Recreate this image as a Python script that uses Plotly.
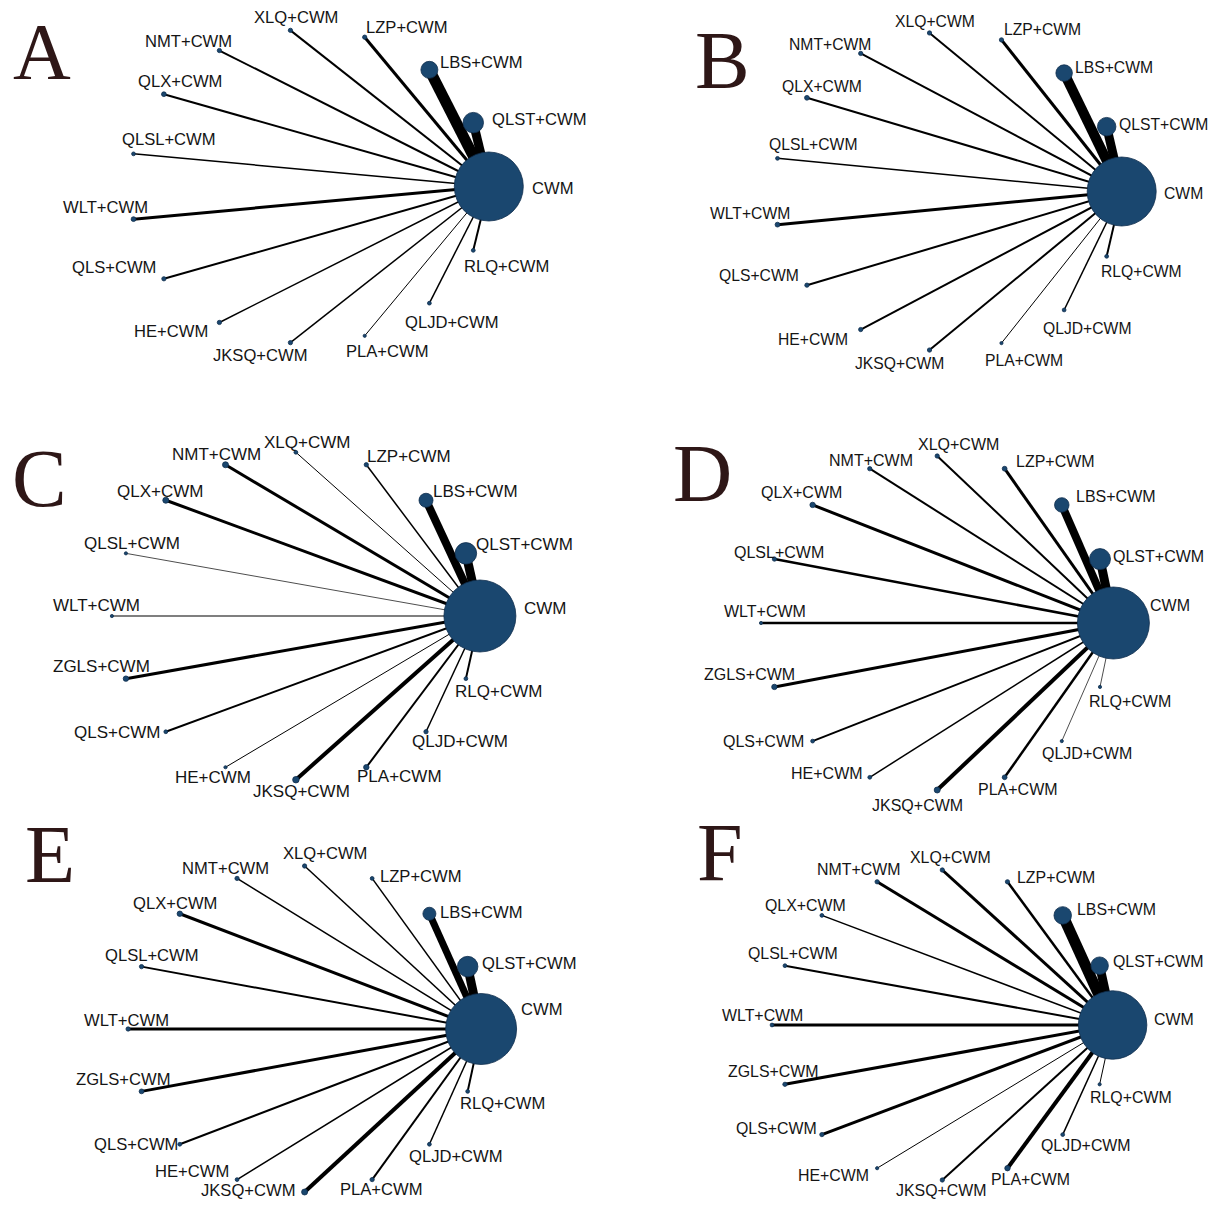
import numpy as np
import plotly.graph_objects as go

# page body has an 8px margin: the figure starts 8px in from the window corner
OFF = 8
W, H = 1217 - 2 * OFF, 1209 - 2 * OFF

# ---------------- data ----------------
panel_letters = ["A", "B", "C", "D", "E", "F"]

nodes_ab = ["CWM", "QLST", "LBS", "LZP", "XLQ", "NMT", "QLX", "QLSL", "WLT",
            "QLS", "HE", "JKSQ", "PLA", "QLJD", "RLQ"]
nodes_cf = ["CWM", "QLST", "LBS", "LZP", "XLQ", "NMT", "QLX", "QLSL", "WLT",
            "ZGLS", "QLS", "HE", "JKSQ", "PLA", "QLJD", "RLQ"]

# edge weights (number of studies vs CWM), order = nodes[1:]
studies_A = [9, 11, 3, 2, 2, 2, 1.5, 3, 2, 1.5, 1.5, 1, 1.5, 2]
studies_B = [9, 10, 3, 2, 2, 2, 1.5, 3, 2, 2, 2, 1, 1.5, 2]
studies_C = [9, 8, 1.5, 1, 3, 3, 0.7, 1.2, 3, 2, 1, 4, 2, 1.5, 2]
studies_D = [9, 8, 3, 2, 2, 3, 2.5, 2.5, 3, 2, 1.5, 4, 2.5, 0.7, 0.7]
studies_E = [9, 7, 1.5, 1.5, 1.5, 3, 2, 3, 3, 2, 1.5, 4, 2, 1.5, 2]
studies_F = [9, 11, 2.5, 3, 3, 1.5, 2, 3, 3, 3, 1, 2, 4, 1.5, 1]

# node weights (sample size, relative), order = nodes
nodew_A = [69, 20.5, 17, 4.3, 4.3, 4.3, 4.8, 3.8, 4.8, 4.3, 4.3, 4.3, 3.2, 3.8, 3.8]
nodew_B = [69, 18.5, 16.5, 4.3, 4.3, 4.3, 4.8, 3.8, 4.8, 4.3, 4.3, 4.3, 3.2, 3.8, 3.8]
nodew_C = [72, 21.5, 14, 4.3, 3.8, 6, 6, 3.2, 3.2, 5.4, 3.8, 3.2, 6.5, 5.4, 4.3, 3.8]
nodew_D = [72, 21, 14.5, 4.8, 4.3, 4.3, 5.4, 4.3, 3.2, 5.4, 3.8, 3.8, 6, 4.8, 3.2, 3.2]
nodew_E = [71, 20.5, 13, 3.8, 4.3, 4.3, 5.4, 4.3, 4.3, 4.8, 3.8, 3.8, 6, 4.3, 3.8, 3.8]
nodew_F = [68.5, 17.5, 17.5, 4.3, 4.3, 4.3, 3.8, 3.8, 3.8, 4.3, 4.3, 3.2, 4.3, 5.4, 3.8, 3.2]

panel_nodes = [nodes_ab, nodes_ab, nodes_cf, nodes_cf, nodes_cf, nodes_cf]
panel_studies = [studies_A, studies_B, studies_C, studies_D, studies_E, studies_F]
panel_nodew = [nodew_A, nodew_B, nodew_C, nodew_D, nodew_E, nodew_F]

# ---------------- style / layout ----------------
# window-pixel geometry of each circular network (centre x, centre y, radius x, radius y)
geom = [
    (309.2, 186.5, 179.6, 157.0),
    (947.7, 191.5, 174.0, 159.4),
    (295.9, 616.0, 184.0, 163.7),
    (937.2, 623.0, 176.2, 167.0),
    (304.6, 1029.0, 176.5, 163.0),
    (942.3, 1025.0, 170.3, 155.0),
]
label_font = [16.6, 15.7, 17.0, 16.0, 16.6, 15.9]
letter_pos = [(42, 53.5), (722, 62.5), (39, 480), (703, 475), (49.5, 856), (719.5, 854)]
letter_size = [80, 82, 82, 82, 82, 82]

# label offsets in px (dx right, dy down) per node, same order as nodes
lab_off = [
    [(63.5, 2), (65.8, -3), (51.9, -7), (42.7, -10), (5.8, -13), (-31.2, -9), (16.2, -13),
     (35.8, -14), (-27.7, -12), (-49.6, -11), (-48.5, 9), (-30, 13), (23, 16), (23, 19),
     (33.5, 16)],
    [(61.7, 2), (57, -2), (49.8, -6), (41.5, -10), (5.9, -11), (-30.9, -9), (15.4, -11),
     (35.6, -14), (-27.3, -11), (-47.5, -10), (-47.5, 10), (-29.7, 13), (22.6, 17),
     (22.6, 19), (34.4, 15)],
    [(64.6, -8), (58.8, -9), (49.6, -9), (42.7, -8), (11.5, -10), (-9.2, -10), (-5.8, -9),
     (5.8, -10), (-15, -11), (-24.2, -12), (-48.5, 1), (-12.7, 10), (5.8, 12), (33.5, 9),
     (33.5, 10), (32.3, 13)],
    [(57, -18), (59, -3), (54.6, -8), (51, -7), (21.4, -12), (1.2, -8), (-10.7, -12),
     (4.7, -7), (3.6, -12), (-24.9, -12), (-48.7, 0), (-42.7, -4), (-20.2, 15), (13, 12),
     (24.9, 12), (29.7, 15)],
    [(60, -20), (62.3, -3), (51.9, -1), (48.5, -2), (20.8, -13), (-11.5, -10), (-4.6, -10),
     (10.4, -11), (-1.2, -9), (-18.5, -12), (-43.8, 0), (-45, -8), (-56, -2), (9.2, 10),
     (26.5, 12), (34.6, 12)],
    [(61.7, -6), (59.3, -4), (53.4, -6), (48.7, -4), (8.3, -13), (-19, -12), (-16.6, -10),
     (8.3, -12), (-9.5, -10), (-11.9, -13), (-45.1, -6), (-43.9, 7), (-1.2, 10), (22.6, 11),
     (23.7, 11), (30.9, 13)],
]

EDGE_PX = 1.0          # line width (px) per study
NODE_COLOR = "#1a476f"
NODE_LINE = "#0f2d4d"
TEXT_COLOR = "#151515"
LETTER_COLOR = "#2e1717"

fig = go.Figure()
annotations = []
layout_axes = {}

for p in range(6):
    nodes = panel_nodes[p]
    n = len(nodes)
    ang = 2 * np.pi * np.arange(n) / n      # circular layout
    xs = np.cos(ang)
    ys = np.sin(ang)
    cx, cy, rx, ry = geom[p]
    cx -= OFF
    cy -= OFF
    sfx = "" if p == 0 else str(p + 1)
    xa, ya = "x" + sfx, "y" + sfx

    layout_axes["xaxis" + sfx] = dict(domain=[0, 1], range=[-cx / rx, (W - cx) / rx],
                                      visible=False, fixedrange=True, anchor=ya)
    layout_axes["yaxis" + sfx] = dict(domain=[0, 1], range=[-(H - cy) / ry, cy / ry],
                                      visible=False, fixedrange=True, anchor=xa)

    # edges (all treatments vs CWM, node 0)
    for k in range(1, n):
        fig.add_trace(go.Scatter(
            x=[xs[k], xs[0]], y=[ys[k], ys[0]], mode="lines",
            line=dict(color="black", width=EDGE_PX * panel_studies[p][k - 1]),
            xaxis=xa, yaxis=ya, hoverinfo="skip", showlegend=False))

    # nodes
    fig.add_trace(go.Scatter(
        x=xs, y=ys, mode="markers",
        marker=dict(size=panel_nodew[p], color=NODE_COLOR, opacity=1,
                    line=dict(color=NODE_LINE, width=0.8)),
        text=nodes, xaxis=xa, yaxis=ya, hoverinfo="text", showlegend=False,
        cliponaxis=False))

    # labels
    for k, name in enumerate(nodes):
        dx, dy = lab_off[p][k]
        annotations.append(dict(
            x=xs[k], y=ys[k], xref=xa, yref=ya,
            text=name if name == "CWM" else name + "+CWM",
            showarrow=False, xanchor="center", yanchor="middle",
            xshift=dx, yshift=-dy,
            font=dict(family="Liberation Sans, Arial, sans-serif",
                      size=label_font[p], color=TEXT_COLOR)))

    # panel letter
    lx, ly = letter_pos[p]
    annotations.append(dict(
        x=(lx - OFF) / W, y=1 - (ly - OFF - 2) / H, xref="paper", yref="paper",
        text=panel_letters[p], showarrow=False, xanchor="center", yanchor="middle",
        font=dict(family="Liberation Serif, Times New Roman, serif", size=letter_size[p],
                  color=LETTER_COLOR)))

fig.update_layout(
    width=W, height=H, margin=dict(l=0, r=0, t=0, b=0),
    paper_bgcolor="white", plot_bgcolor="rgba(0,0,0,0)",
    annotations=annotations, **layout_axes)

fig.write_html("out.html")
